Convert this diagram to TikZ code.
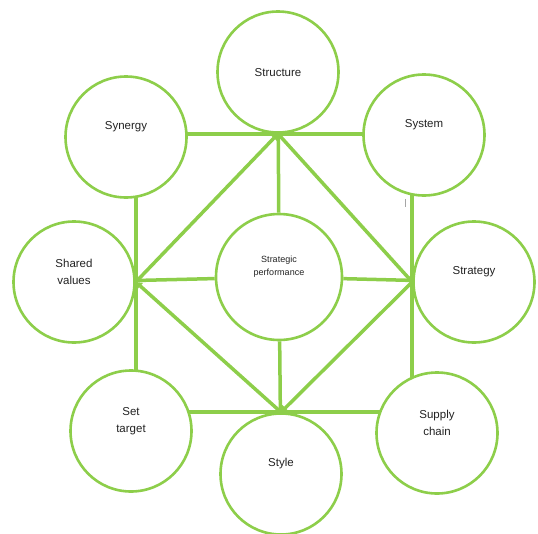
\documentclass[tikz,border=0pt]{standalone}
\usepackage{fontspec}
\setmainfont{Liberation Sans}
\usetikzlibrary{arrows.meta,backgrounds}

\definecolor{leaf}{RGB}{141,206,74}
\definecolor{ink}{RGB}{35,35,35}

\tikzset{
    ring/.style={circle, draw=leaf, line width=2.6pt, fill=white, minimum size=121pt, inner sep=0pt},
    lbl/.style={font=\fontsize{11.5}{17.5}\selectfont, text=ink, align=center, yshift=#1},
    lbl/.default=10pt,
    link/.style={leaf, line width=3.5pt},
    arr/.style={link, -{Triangle[length=6pt,width=8pt]}}
}

\begin{document}
\begin{tikzpicture}[x=1pt,y=-1pt]
        \useasboundingbox (0,0) rectangle (538,533);

        % Circles
        \node[ring, label={[lbl=-1pt]center:Structure}] (structure) at (278,72) {};
        \node[ring, label={[lbl]center:Synergy}] (synergy) at (126,137) {};
        \node[ring, label={[lbl]center:System}] (system) at (424,135) {};
        \node[ring, label={[lbl]center:Shared\\values}] (shared) at (74,282) {};
        \node[ring, minimum size=126pt, label={[lbl, font=\fontsize{9}{13}\selectfont]center:Strategic\\performance}] (perf) at (279,277) {};
        \node[ring, label={[lbl]center:Strategy}] (strategy) at (474,282) {};
        \node[ring, label={[lbl]center:Set\\target}] (settarget) at (131,431) {};
        \node[ring, label={[lbl]center:Style}] (style) at (281,474) {};
        \node[ring, label={[lbl]center:Supply\\chain}] (supply) at (437,433) {};

        % Frame lines behind the circles
        \begin{scope}[on background layer]
            \draw[link] (synergy.center |- structure.south) -- (system.center |- structure.south);
            \draw[link] (settarget.center |- style.north) -- (supply.center |- style.north);
            \draw[link] (shared.east |- synergy.center) -- (shared.east |- settarget.center);
            \draw[link] (strategy.west |- system.center) -- (strategy.west |- supply.center);

            % Spokes from the centre
            \draw[link] (perf) -- (structure);
            \draw[link] (perf) -- (shared);
            \draw[link] (perf) -- (strategy);
            \draw[link] (perf) -- (style);
        \end{scope}

        % Diamond
        \draw[arr] (shared.east) -- (structure.south);
        \draw[arr] (structure.south) -- (strategy.west);
        \draw[arr] (strategy.west) -- (style.north);
        \draw[arr] (style.north) -- (shared.east);

        % small tick under System
        \draw[gray!70, line width=0.7pt] ([xshift=-19pt,yshift=-2pt]system.south) -- ++(0,8);

    \end{tikzpicture}
\end{document}
